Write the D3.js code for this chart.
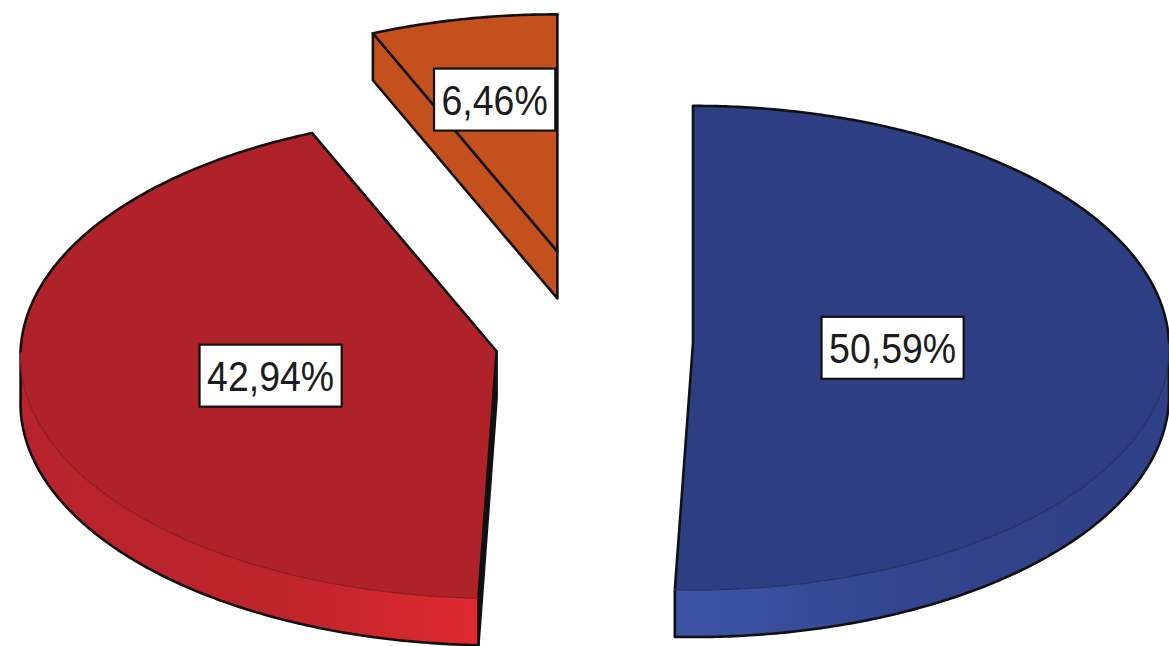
<!DOCTYPE html>
<html>
<head>
<meta charset="utf-8">
<script src="https://cdn.jsdelivr.net/npm/d3@7"></script>
<style>
  html, body { margin: 0; padding: 0; background: #ffffff; }
  svg { display: block; }
</style>
</head>
<body>
<svg id="chart" width="1169" height="646"></svg>
<script>
// ---- data ----
const categories = ["Categoria 1", "Categoria 2", "Categoria 3"];
const values = [50.59, 42.94, 6.46];

// ---- styling ----
const topColors  = ["#2e3e82", "#b0222a", "#c4501e"];
const sideColors = ["#3c53a6", "#e22a30", "#c8521f"];
const explode    = [0.208, 0.208, 0.385];   // fraction of the radius each slice is pulled out

// ---- geometry of the tilted disc ----
const W = 1169, H = 646;
const CX = 594, CY = 342;     // disc centre
const RX = 476, RY = 242;     // ellipse radii of the top face
const PERSP = 0.0207;         // mild perspective: the near rim looks slightly larger
const TH = 47;                // disc thickness

const svg = d3.select("#chart");
const defs = svg.append("defs");

const locale = d3.formatLocale({ decimal: ",", thousands: ".", grouping: [3], currency: ["", ""] });
const fmt = v => locale.format(".2f")(v) + "%";

const arcs = d3.pie().sort(null).value(d => d)(values)
  .map((a, i) => Object.assign(a, { index: i, name: categories[i] }));

// pie angles are clockwise from 12 o'clock; project a point of the disc onto the screen
function pt(o, a, r = 1, dz = 0) {
  const f = 1 / (1 + PERSP * r * Math.cos(a));
  return [o[0] + r * RX * Math.sin(a) * f, o[1] - r * RY * Math.cos(a) * f + dz];
}
function arcPts(o, a0, a1, dz = 0) {
  const n = Math.max(2, Math.ceil(Math.abs(a1 - a0) / (Math.PI / 360)));
  return d3.range(n + 1).map(k => pt(o, a0 + (a1 - a0) * k / n, 1, dz));
}
const line = d3.line();
const closed = pts => line(pts) + "Z";

// slice origins after exploding
arcs.forEach(a => {
  const mid = (a.startAngle + a.endAngle) / 2;
  a.mid = mid;
  a.origin = pt([CX, CY], mid, explode[a.index]);
});

// back-to-front drawing order
const order = arcs.slice().sort((p, q) => p.origin[1] - q.origin[1]);

const OUT = "#111111";
const SW = 2.6;

order.forEach(a => {
  const i = a.index;
  const o = a.origin;
  const a0 = a.startAngle, a1 = a.endAngle;
  const g = svg.append("g").attr("class", "slice").attr("data-name", a.name);

  // radial cut faces that face the viewer
  [[a0, a0 - Math.PI / 2], [a1, a1 + Math.PI / 2]].forEach(([ang, normal]) => {
    const vis = Math.cos(normal - Math.PI);
    if (vis > 1e-6) {
      const rimT = pt(o, ang), rimB = pt(o, ang, 1, TH);
      const apT = o, apB = [o[0], o[1] + TH];
      g.append("path")
        .attr("d", closed([apT, rimT, rimB, apB]))
        .attr("fill", vis < 0.12 ? OUT : topColors[i])
        .attr("stroke", OUT).attr("stroke-width", SW)
        .attr("stroke-linejoin", "round");
    }
  });

  // curved outer wall, visible on the front half
  const s0 = Math.max(a0, Math.PI / 2), s1 = Math.min(a1, 3 * Math.PI / 2);
  if (s1 > s0) {
    const gid = "side" + i;
    const frontX = o[0];
    const farX = (s0 + s1) / 2 < Math.PI ? o[0] + RX : o[0] - RX;
    const grad = defs.append("linearGradient").attr("id", gid)
      .attr("gradientUnits", "userSpaceOnUse")
      .attr("x1", frontX).attr("y1", 0).attr("x2", farX).attr("y2", 0);
    grad.append("stop").attr("offset", 0).attr("stop-color", sideColors[i]);
    grad.append("stop").attr("offset", 0.45).attr("stop-color", d3.interpolateRgb(sideColors[i], topColors[i])(0.7));
    grad.append("stop").attr("offset", 1).attr("stop-color", d3.color(topColors[i]).brighter(0.1));

    const topEdge = arcPts(o, s0, s1, 0);
    const botEdge = arcPts(o, s0, s1, TH);
    g.append("path")
      .attr("d", closed(topEdge.concat(botEdge.slice().reverse())))
      .attr("fill", `url(#${gid})`);
    g.append("path")
      .attr("d", line([topEdge[0]].concat(botEdge, [topEdge[topEdge.length - 1]])))
      .attr("fill", "none")
      .attr("stroke", OUT).attr("stroke-width", SW)
      .attr("stroke-linejoin", "round");
  }

  // top face
  const rim = arcPts(o, a0, a1, 0);
  g.append("path")
    .attr("d", closed([o].concat(rim)))
    .attr("fill", topColors[i]);

  // radial edges
  g.append("path")
    .attr("d", line([pt(o, a0), o, pt(o, a1)]))
    .attr("fill", "none")
    .attr("stroke", OUT).attr("stroke-width", SW)
    .attr("stroke-linejoin", "round");

  // rim edge: silhouette on the back half, soft seam on the front half
  const pieces = [];
  const cuts = [a0, a1, Math.PI / 2, 3 * Math.PI / 2].filter(c => c >= a0 && c <= a1).sort((p, q) => p - q);
  for (let k = 0; k < cuts.length - 1; k++) {
    if (cuts[k + 1] - cuts[k] < 1e-6) continue;
    const m = (cuts[k] + cuts[k + 1]) / 2;
    pieces.push({ from: cuts[k], to: cuts[k + 1], front: m > Math.PI / 2 && m < 3 * Math.PI / 2 });
  }
  pieces.forEach(p => {
    g.append("path")
      .attr("d", line(arcPts(o, p.from, p.to, 0)))
      .attr("fill", "none")
      .attr("stroke", p.front ? d3.color(topColors[i]).darker(0.7) : OUT)
      .attr("stroke-width", p.front ? 1.2 : SW)
      .attr("stroke-linecap", "round");
  });
});

// value labels at each sector's centroid
const FS = 37.5, VS = 1.12;
arcs.forEach(a => {
  const half = (a.endAngle - a.startAngle) / 2;
  const k = (2 / 3) * Math.sin(half) / half;
  const [lx, ly0] = pt(a.origin, a.mid, k);
  const ly = ly0 + 3;
  const lg = svg.append("g").attr("class", "label");
  const rect = lg.append("rect");
  const tg = lg.append("g").attr("transform", `translate(${lx},${ly}) scale(1,${VS})`);
  const txt = tg.append("text")
    .attr("x", 0).attr("y", FS * 0.358)
    .attr("text-anchor", "middle")
    .attr("font-family", "'Liberation Sans', Arial, sans-serif")
    .attr("font-size", FS)
    .attr("fill", "#1c1c1c")
    .text(fmt(a.value));
  const len = txt.node().getComputedTextLength();
  const bw = len + 15, bh = 62;
  rect.attr("x", lx - bw / 2).attr("y", ly - bh / 2)
    .attr("width", bw).attr("height", bh)
    .attr("fill", "#ffffff")
    .attr("stroke", OUT).attr("stroke-width", 2.2);
});
</script>
</body>
</html>
